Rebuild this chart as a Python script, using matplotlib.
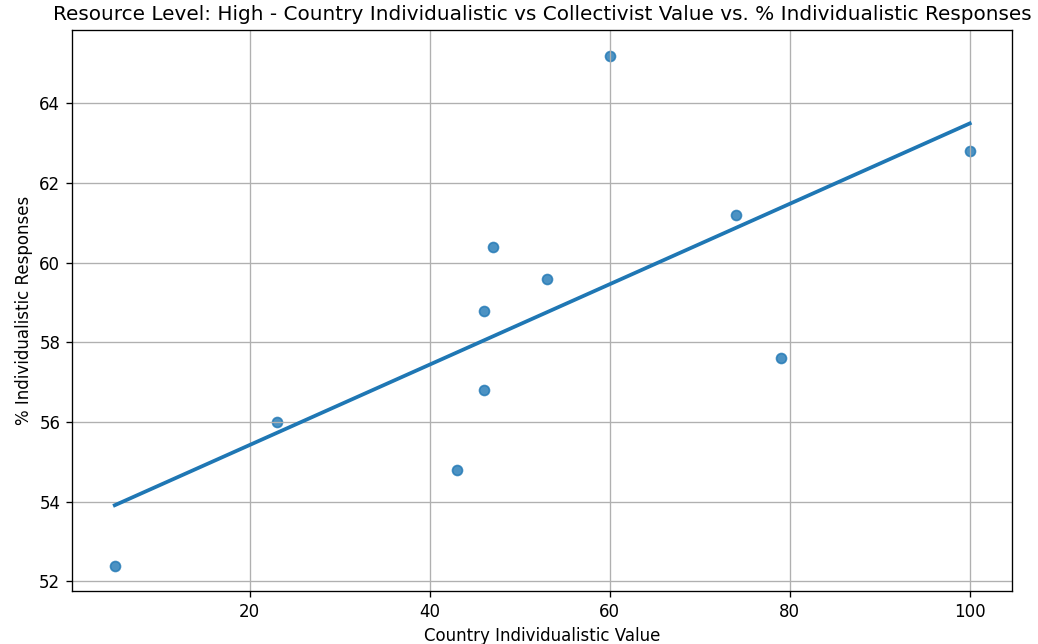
import numpy as np
import matplotlib
matplotlib.use("Agg")
import matplotlib.pyplot as plt
import seaborn as sns
import pandas as pd

# values
individualistic_value = [5, 23, 43, 46, 46, 47, 53, 60, 74, 79, 100]
pct_individualistic = [52.4, 56.0, 54.8, 56.8, 58.8, 60.4, 59.6, 65.2, 61.2, 57.6, 62.8]

df = pd.DataFrame({
    "Country Individualistic Value": individualistic_value,
    "% Individualistic Responses": pct_individualistic,
})

fig = plt.figure(figsize=(8.65, 5.3667), dpi=120)
ax = fig.add_axes([0.0694, 0.0823, 0.906, 0.871])

sns.regplot(data=df, x="Country Individualistic Value",
            y="% Individualistic Responses", ci=None, ax=ax)

ax.set_title("Resource Level: High - Country Individualistic vs Collectivist Value vs. % Individualistic Responses")
ax.grid(True)
ax.set_yticks([52, 54, 56, 58, 60, 62, 64])

fig.savefig("out.png", dpi=120)
